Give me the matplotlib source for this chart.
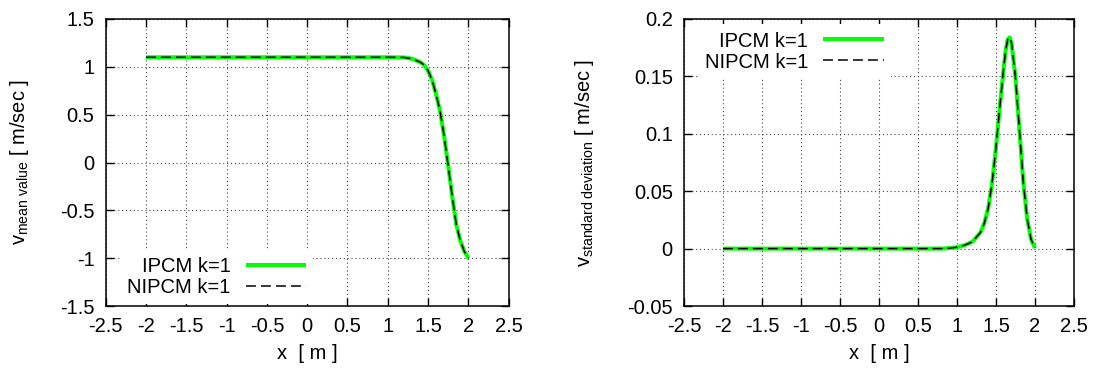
import matplotlib
matplotlib.use("Agg")
import matplotlib.pyplot as plt

plt.rcParams['font.family'] = ['Liberation Sans', 'DejaVu Sans']
plt.rcParams['mathtext.fontset'] = 'custom'
plt.rcParams['mathtext.rm'] = 'Liberation Sans'
plt.rcParams['mathtext.it'] = 'Liberation Sans'

# mean velocity profile along x
x_mean = [-2.0, 1.0, 1.2, 1.3, 1.4, 1.45, 1.5, 1.55, 1.6, 1.65, 1.7,
          1.75, 1.8, 1.85, 1.9, 1.95, 2.0]
v_mean = [1.1, 1.1, 1.098, 1.085, 1.05, 1.02, 0.96, 0.86, 0.71, 0.53, 0.27,
          -0.04, -0.36, -0.65, -0.82, -0.93, -1.0]

# standard deviation of velocity along x
x_std = [-2.0, 0.8, 0.9, 1.0, 1.1, 1.2, 1.3, 1.35, 1.4, 1.45, 1.5, 1.55,
         1.6, 1.625, 1.65, 1.675, 1.7, 1.75, 1.8, 1.85, 1.9, 1.95, 2.0]
v_std = [0.0, 0.0, 0.0004, 0.0012, 0.003, 0.006, 0.014, 0.022, 0.035, 0.057,
         0.088, 0.124, 0.158, 0.173, 0.182, 0.184, 0.179, 0.149, 0.104, 0.058,
         0.026, 0.008, 0.0005]

labels = ["IPCM k=1", "NIPCM k=1"]
x_ticks = [-2.5, -2, -1.5, -1, -0.5, 0, 0.5, 1, 1.5, 2, 2.5]
mean_ticks = [-1.5, -1, -0.5, 0, 0.5, 1, 1.5]
std_ticks = [-0.05, 0, 0.05, 0.1, 0.15, 0.2]

FS = 14.5


def fmt(v):
    s = f"{v:g}"
    return s


def style_axes(ax, yticks):
    ax.set_xlim(-2.5, 2.5)
    ax.set_ylim(yticks[0], yticks[-1])
    ax.set_xticks(x_ticks)
    ax.set_xticklabels([fmt(t) for t in x_ticks])
    ax.set_yticks(yticks)
    ax.set_yticklabels([fmt(t) for t in yticks])
    ax.tick_params(direction='in', length=5.5, width=1.0, top=True, right=True,
                   labelsize=FS, pad=8)
    ax.grid(True, color='#444444', linestyle=(0, (1, 2.5)), linewidth=0.8)
    ax.set_axisbelow(True)
    for sp in ax.spines.values():
        sp.set_linewidth(1.1)
    ax.set_xlabel("x  [ m ]", fontsize=FS, labelpad=6)


def draw(ax, x, y):
    ax.plot(x, y, color='#00ff00', linewidth=2.9, label=labels[0],
            solid_capstyle='butt')
    ax.plot(x, y, color='black', linewidth=1.1, dashes=(6.5, 3.3),
            label=labels[1])


fig = plt.figure(figsize=(10.94, 3.74), dpi=100)
ax1 = fig.add_axes([0.0966, 0.1818, 0.3684, 0.7674])
ax2 = fig.add_axes([0.6252, 0.1818, 0.3565, 0.7674])

draw(ax1, x_mean, v_mean)
style_axes(ax1, mean_ticks)
ax1.set_ylabel(r"$\mathrm{v_{mean\ value}}$ [ m/sec ]", fontsize=FS)
ax1.yaxis.set_label_coords(-0.185, 0.5)
leg1 = ax1.legend(loc='lower right', bbox_to_anchor=(0.52, 0.0),
                  markerfirst=False, fontsize=FS, handlelength=3.0,
                  handletextpad=0.75, labelspacing=0.1, borderpad=0.35,
                  borderaxespad=0.1, frameon=True, fancybox=False,
                  framealpha=1.0, edgecolor='none', facecolor='white')

draw(ax2, x_std, v_std)
style_axes(ax2, std_ticks)
ax2.set_ylabel(r"$\mathrm{v_{standard\ deviation}}$ [ m/sec ]", fontsize=FS)
ax2.yaxis.set_label_coords(-0.225, 0.5)
leg2 = ax2.legend(loc='upper right', bbox_to_anchor=(0.535, 0.988),
                  markerfirst=False, fontsize=FS, handlelength=3.0,
                  handletextpad=0.75, labelspacing=0.1, borderpad=0.35,
                  borderaxespad=0.1, frameon=True, fancybox=False,
                  framealpha=1.0, edgecolor='none', facecolor='white')

fig.savefig("out.png", dpi=100)
